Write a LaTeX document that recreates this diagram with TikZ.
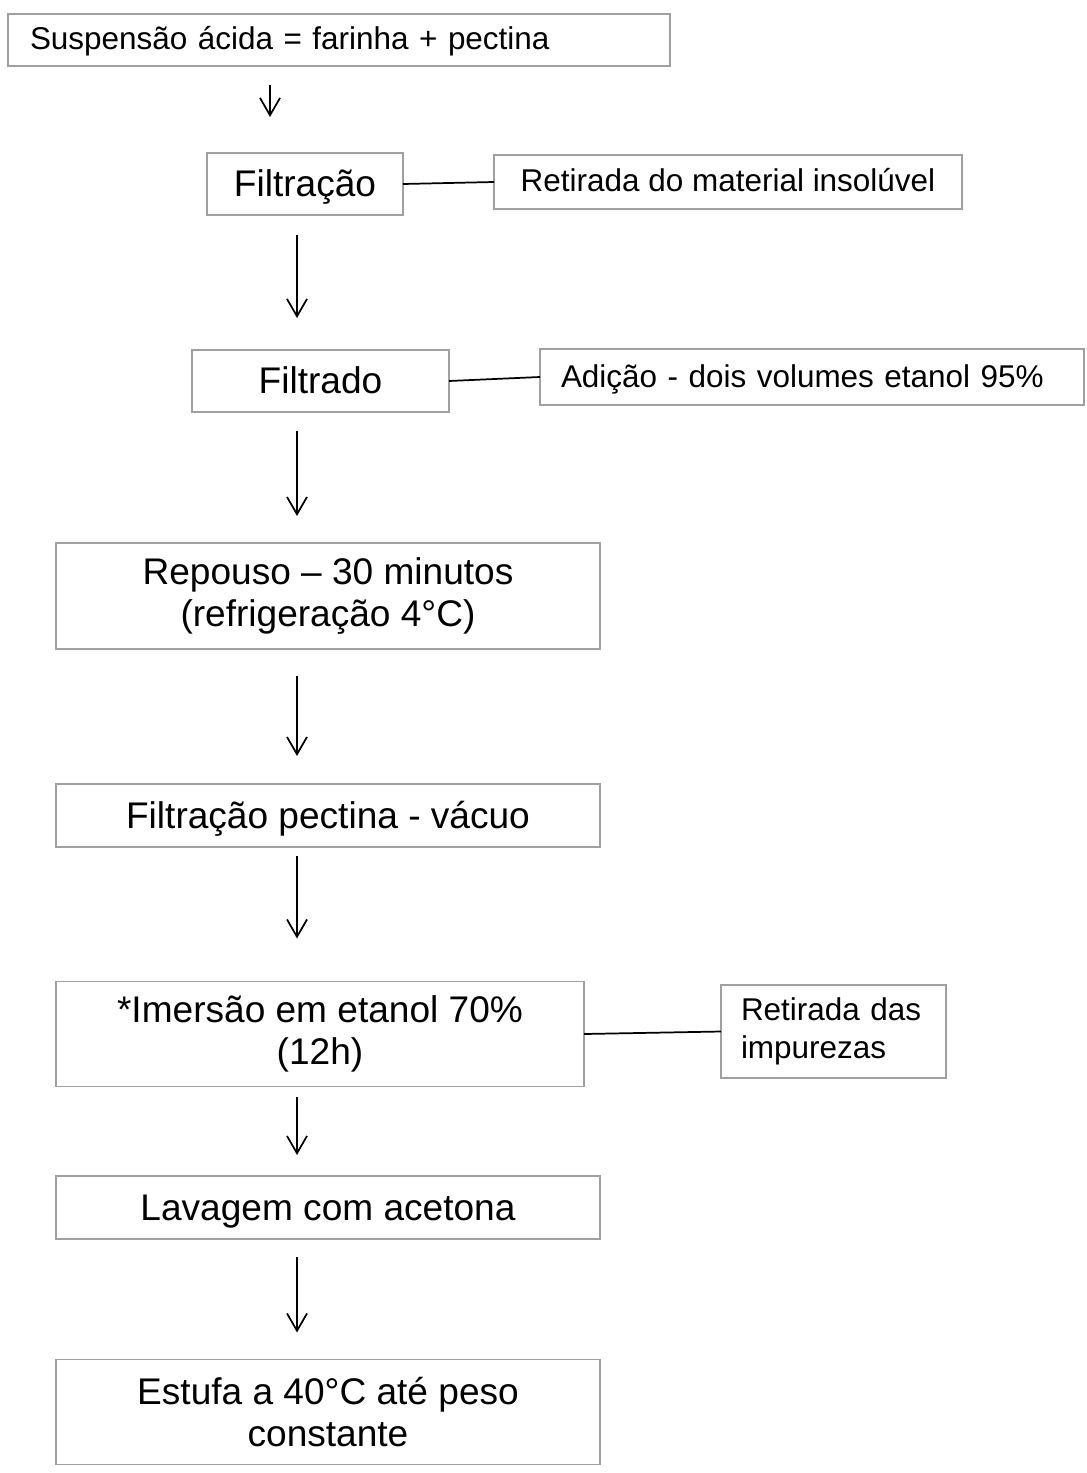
\documentclass[tikz,border=0pt]{standalone}
\usepackage{fontspec}
\setmainfont{Liberation Sans}
\usetikzlibrary{arrows.meta}
\definecolor{boxgray}{RGB}{160,160,160}

\begin{document}
\begin{tikzpicture}[
x=0.75pt, y=-0.75pt,
stepbox/.style={rectangle, draw=boxgray, line width=1.4pt, inner sep=0pt, outer sep=0pt, align=center,
  font=\fontsize{27.8}{32}\selectfont},
notebox/.style={stepbox, font=\fontsize{23.6}{28}\selectfont},
oneline/.style={text height=21.5pt, text depth=2.7pt},
smallline/.style={text height=18pt, text depth=3pt},
flow/.style={-{Straight Barb[length=13pt, width=15pt, line width=1.3pt]}, line width=1.3pt},
link/.style={line width=1.3pt},
]
\useasboundingbox (0,0) rectangle (1086,1473);

%Nodes
\node[notebox, smallline, minimum width=496.5pt, minimum height=39pt, text width=463.5pt, align=left] (susp) at (339,40) {Suspensão ácida = farinha + pectina};
\node[stepbox, oneline, minimum width=147pt, minimum height=46.5pt] (filt) at (305,184) {Filtração};
\node[notebox, smallline, minimum width=351pt, minimum height=40.5pt] (insol) at (728,182) {Retirada do material insolúvel};
\node[stepbox, oneline, minimum width=192.75pt, minimum height=46.5pt] (filtrado) at (320.5,381) {Filtrado};
\node[notebox, smallline, minimum width=408pt, minimum height=42pt, text width=376.5pt, align=left] (adic) at (812,377) {Adição - dois volumes etanol 95\%};
\node[stepbox, minimum width=408pt, minimum height=79.5pt] (repouso) at (328,596) {Repouso -- 30 minutos\\(refrigeração 4°C)};
\node[stepbox, oneline, minimum width=408pt, minimum height=47.25pt] (vacuo) at (328,815.5) {Filtração pectina - vácuo};
\node[stepbox, minimum width=396pt, minimum height=78.75pt] (imersao) at (320,1034) {*Imersão em etanol 70\%\\(12h)};
\node[notebox, minimum width=168.75pt, minimum height=69.75pt, text width=138.75pt, align=left] (impur) at (833.5,1031.5) {Retirada das\\impurezas};
\node[stepbox, oneline, minimum width=408pt, minimum height=47.25pt] (lavagem) at (328,1207.5) {Lavagem com acetona};
\node[stepbox, minimum width=408pt, minimum height=78.75pt] (estufa) at (328,1412) {Estufa a 40°C até peso\\constante};

\coordinate (top col) at (270,0);
\coordinate (col) at (297,0);

%Lines
\draw[flow, shorten <=14.25pt, shorten >=27pt] (susp.south -| top col) -- (filt.north -| top col);
\draw[flow, shorten <=15pt, shorten >=24pt] (filt.south -| col) -- (filtrado.north -| col);
\draw[flow, shorten <=14.25pt, shorten >=20.25pt] (filtrado.south -| col) -- (repouso.north -| col);
\draw[flow, shorten <=20.25pt, shorten >=21pt] (repouso.south -| col) -- (vacuo.north -| col);
\draw[flow, shorten <=6.75pt, shorten >=32.25pt] (vacuo.south -| col) -- (imersao.north -| col);
\draw[flow, shorten <=7.5pt, shorten >=15.75pt] (imersao.south -| col) -- (lavagem.north -| col);
\draw[flow, shorten <=13.5pt, shorten >=20.25pt] (lavagem.south -| col) -- (estufa.north -| col);

\draw[link] (filt.east) -- (insol.west);
\draw[link] (filtrado.east) -- (adic.west);
\draw[link] (imersao.east) -- (impur.west);
\end{tikzpicture}
\end{document}
